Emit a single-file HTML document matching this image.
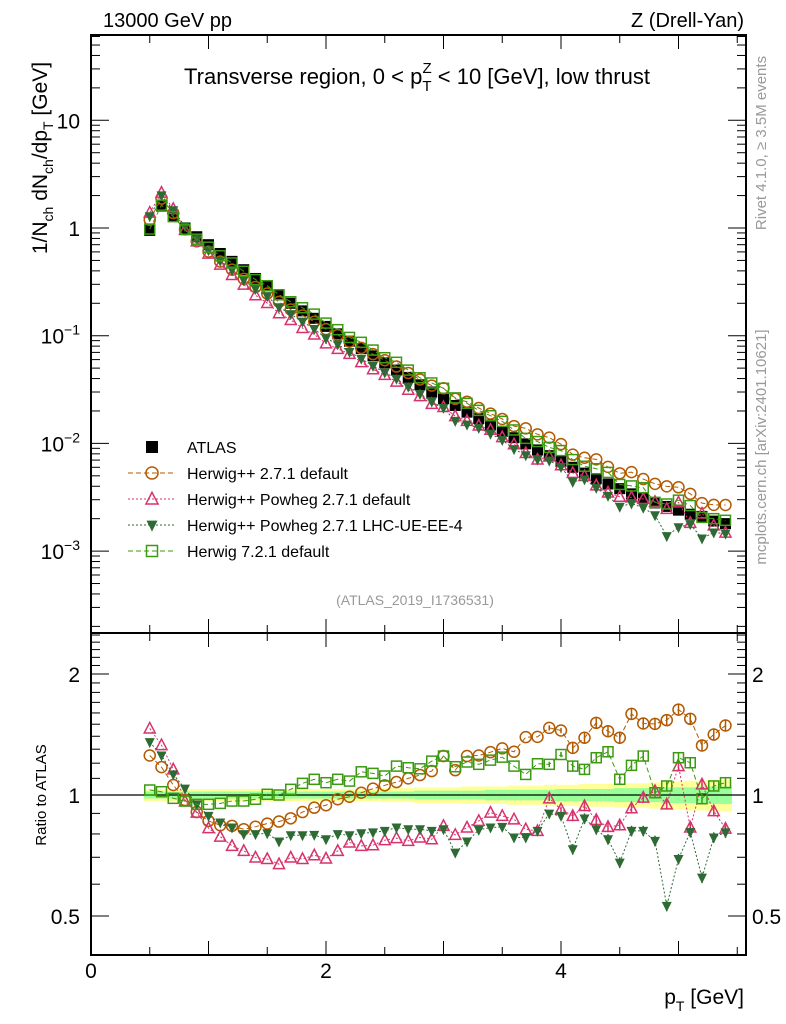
<!DOCTYPE html>
<html><head><meta charset="utf-8"><style>
body{margin:0;background:#fff;}
svg{display:block;font-family:"Liberation Sans",sans-serif;}
</style></head><body>
<svg id="c" width="786" height="1024" xmlns="http://www.w3.org/2000/svg"></svg>
<script>
const xs=[0.5,0.6,0.7,0.8,0.9,1.0,1.1,1.2,1.3,1.4,1.5,1.6,1.7,1.8,1.9,2.0,2.1,2.2,2.3,2.4,2.5,2.6,2.7,2.8,2.9,3.0,3.1,3.2,3.3,3.4,3.5,3.6,3.7,3.8,3.9,4.0,4.1,4.2,4.3,4.4,4.5,4.6,4.7,4.8,4.9,5.0,5.1,5.2,5.3,5.4];
const atlas=[0.95,1.6,1.3,1.0,0.83,0.70,0.58,0.49,0.41,0.34,0.29,0.24,0.20,0.17,0.145,0.122,0.104,0.089,0.076,0.065,0.056,0.048,0.041,0.035,0.030,0.026,0.0225,0.0195,0.017,0.0148,0.0129,0.0113,0.0099,0.0087,0.0077,0.0068,0.006,0.0053,0.0047,0.0042,0.0038,0.0034,0.0031,0.0028,0.0026,0.0024,0.0022,0.0021,0.0019,0.0018];
const rHerwig=[1.254,1.173,1.059,0.972,0.907,0.862,0.841,0.838,0.822,0.834,0.849,0.859,0.875,0.907,0.930,0.943,0.976,0.99,1.013,1.037,1.057,1.077,1.10,1.121,1.147,1.25,1.153,1.25,1.254,1.278,1.306,1.281,1.393,1.395,1.469,1.447,1.31,1.388,1.512,1.441,1.388,1.591,1.506,1.503,1.535,1.631,1.547,1.328,1.414,1.489];
const rPowheg=[1.464,1.331,1.158,0.964,0.904,0.827,0.788,0.747,0.726,0.699,0.693,0.673,0.699,0.693,0.708,0.695,0.726,0.762,0.747,0.750,0.772,0.781,0.769,0.784,0.776,0.838,0.796,0.830,0.862,0.904,0.887,0.87,0.822,0.814,0.981,0.921,0.887,0.939,0.867,0.833,0.841,0.927,0.985,1.023,0.948,1.18,0.830,1.063,0.912,0.825];
const rPowhegUE=[1.354,1.254,1.125,1.037,0.948,0.887,0.854,0.830,0.799,0.799,0.803,0.766,0.794,0.794,0.796,0.776,0.799,0.794,0.803,0.807,0.814,0.830,0.822,0.822,0.814,0.822,0.719,0.766,0.819,0.830,0.833,0.784,0.784,0.814,0.899,0.887,0.733,0.874,0.822,0.776,0.679,0.814,0.814,0.769,0.530,0.693,0.809,0.623,0.784,0.807];
const rH7=[1.029,1.019,0.981,0.966,0.948,0.948,0.953,0.966,0.966,0.976,1.004,1.0,1.033,1.069,1.094,1.073,1.094,1.083,1.142,1.132,1.115,1.18,1.169,1.162,1.214,1.25,1.176,1.208,1.192,1.221,1.242,1.18,1.125,1.196,1.192,1.261,1.18,1.158,1.238,1.281,1.094,1.185,1.25,1.013,1.053,1.238,1.203,0.979,1.053,1.073];
const bandStat=[0.02,0.02,0.02,0.02,0.02,0.02,0.02,0.02,0.02,0.02,0.02,0.02,0.02,0.02,0.02,0.02,0.02,0.02,0.02,0.02,0.02,0.02,0.02,0.025,0.025,0.025,0.025,0.025,0.025,0.03,0.03,0.03,0.03,0.03,0.03,0.035,0.035,0.035,0.035,0.035,0.04,0.04,0.04,0.04,0.045,0.045,0.045,0.05,0.05,0.05];
const bandTot=[0.035,0.035,0.035,0.035,0.035,0.035,0.035,0.035,0.035,0.035,0.035,0.035,0.035,0.035,0.035,0.035,0.035,0.035,0.035,0.035,0.04,0.04,0.04,0.045,0.045,0.045,0.045,0.05,0.05,0.05,0.05,0.055,0.055,0.055,0.06,0.06,0.06,0.065,0.065,0.065,0.07,0.07,0.07,0.075,0.08,0.08,0.085,0.085,0.09,0.09];
const yTickExp=[1,0,-1,-2,-3];
const svg=document.getElementById('c');
const NS='http://www.w3.org/2000/svg';
const L=91,R=746,T1=35,B1=633,T2=633,B2=955;
const X=v=>L+117.5*v;
const Y1=v=>228-107.7*Math.log10(v);
const Y2=v=>795-402*Math.log10(v);
function el(tag,a,parent){const e=document.createElementNS(NS,tag);for(const k in a)e.setAttribute(k,a[k]);(parent||svg).appendChild(e);return e;}
function txt(s,a,name){const e=el('text',a);e.textContent=s;return e;}

const band=el('g',{});


xs.forEach((x,i)=>{
  const x0=X(x-0.05),w=117.5*0.1;
  let r=el('rect',{x:x0,y:Y2(1+bandTot[i]),width:w+0.5,height:Y2(1-bandTot[i])-Y2(1+bandTot[i]),fill:'#ffff99'},band);
  
  
  r=el('rect',{x:x0,y:Y2(1+bandStat[i]),width:w+0.5,height:Y2(1-bandStat[i])-Y2(1+bandStat[i]),fill:'#99ff99'},band);
  
  
});
let ln=el('line',{x1:L,x2:R,y1:Y2(1),y2:Y2(1),stroke:'#000','stroke-width':1.3});



const series=[
 {name:'herwig-2-7-1',r:rHerwig,col:'#b35900',dash:'5,3',m:'circle'},
 {name:'powheg-2-7-1',r:rPowheg,col:'#d6336c',dash:'2,2',m:'tri'},
 {name:'powheg-lhc-ue',r:rPowhegUE,col:'#2e6b34',dash:'2,2',m:'tridown'},
 {name:'herwig-7-2-1',r:rH7,col:'#3c9a12',dash:'5,3',m:'square'}
];
function marker(g,m,x,y,col,s){
  let e;
  if(m==='circle')e=el('circle',{cx:x,cy:y,r:s*0.55,fill:'none',stroke:col,'stroke-width':1.5},g);
  else if(m==='tri')e=el('polygon',{points:`${x},${y-s*0.6} ${x-s*0.55},${y+s*0.45} ${x+s*0.55},${y+s*0.45}`,fill:'none',stroke:col,'stroke-width':1.5},g);
  else if(m==='tridown')e=el('polygon',{points:`${x},${y+s*0.6} ${x-s*0.5},${y-s*0.4} ${x+s*0.5},${y-s*0.4}`,fill:col},g);
  else if(m==='square')e=el('rect',{x:x-s*0.5,y:y-s*0.5,width:s,height:s,fill:'none',stroke:col,'stroke-width':1.5},g);
  else e=el('rect',{x:x-s*0.5,y:y-s*0.5,width:s,height:s,fill:col},g);
  
  
}
const ga=el('g',{});


xs.forEach((x,i)=>marker(ga,'fsq',X(x),Y1(atlas[i]),'#000',11));
series.forEach(s=>{
  const g=el('g',{});
  
  
  const p1=xs.map((x,i)=>X(x)+','+Y1(atlas[i]*s.r[i])).join(' ');
  let pl=el('polyline',{points:p1,fill:'none',stroke:s.col,'stroke-dasharray':s.dash,'stroke-width':1},g);
  
  
  xs.forEach((x,i)=>marker(g,s.m,X(x),Y1(atlas[i]*s.r[i]),s.col,10));
  const p2=xs.map((x,i)=>X(x)+','+Y2(s.r[i])).join(' ');
  pl=el('polyline',{points:p2,fill:'none',stroke:s.col,'stroke-dasharray':s.dash,'stroke-width':1},g);
  
  
  xs.forEach((x,i)=>{
    const e=x>4?0.03:0.015;
    if(x>3.8){const eb=el('line',{x1:X(x),x2:X(x),y1:Y2(s.r[i]*(1+e)),y2:Y2(s.r[i]*(1-e)),stroke:s.col,'stroke-width':1.5},g);
    
    }
    marker(g,s.m,X(x),Y2(s.r[i]),s.col,10);
  });
});

[[T1,B1,'main-frame'],[T2,B2,'ratio-frame']].forEach(([t,b,n])=>{
  const r=el('rect',{x:L,y:t,width:R-L,height:b-t,fill:'none',stroke:'#000','stroke-width':2});
  
  
});
for(let v=0;v<=5.5;v+=0.5){
  const major=Math.abs(v-Math.round(v))<1e-6, len=major?14:8;
  [[T1,1],[B1,-1],[T2,1],[B2,-1]].forEach(([y,d])=>{
    const t=el('line',{x1:X(v),x2:X(v),y1:y,y2:y+d*len,stroke:'#000','stroke-width':1});
    
    
  });
}
[0,2,4].forEach(v=>txt(String(v),{x:X(v),y:978,'font-size':21,'text-anchor':'middle'},'x-tick-label'));
for(let d=-4;d<=1;d++)for(let k=1;k<10;k++){
  const v=k*Math.pow(10,d),y=Y1(v);if(y<T1||y>B1)continue;
  const len=k===1?18:9;
  [[L,1],[R,-1]].forEach(([x,s])=>{const t=el('line',{x1:x,x2:x+s*len,y1:y,y2:y,stroke:'#000','stroke-width':1});
  
  });
}
yTickExp.forEach(ex=>{
  const y=Y1(Math.pow(10,ex));
  const t=txt('',{x:80,y:y+8,'font-size':21,'text-anchor':'end'},'y-tick-label');
  if(ex===1)t.textContent='10';
  else if(ex===0)t.textContent='1';
  else t.innerHTML='10<tspan font-size="14" dy="-9">−'+(-ex)+'</tspan>';
});
[0.4,0.5,0.6,0.7,0.8,0.9,1,1.1,1.2,1.3,1.4,1.5,1.6,1.7,1.8,1.9,2,2.1,2.2,2.3,2.4,2.5].forEach(v=>{
  const y=Y2(v);if(y<T2||y>B2)return;const maj=[0.5,1,2].includes(v);const len=maj?18:9;
  [[L,1],[R,-1]].forEach(([x,s])=>{const t=el('line',{x1:x,x2:x+s*len,y1:y,y2:y,stroke:'#000','stroke-width':1});
  
  });
});
[[2,'2'],[1,'1'],[0.5,'0.5']].forEach(([v,s])=>{
  txt(s,{x:80,y:Y2(v)+8,'font-size':21,'text-anchor':'end'},'ratio-tick-label-left');
  txt(s,{x:752,y:Y2(v)+8,'font-size':21},'ratio-tick-label-right');
});
txt('13000 GeV pp',{x:103,y:27,'font-size':20},'beam-label');
txt('Z (Drell-Yan)',{x:744,y:27,'font-size':20,'text-anchor':'end'},'process-label');
let tt=txt('',{x:417,y:84,'font-size':22,'text-anchor':'middle'},'plot-title');
tt.innerHTML='Transverse region, 0 &lt; p<tspan font-size="15" dy="7">T</tspan><tspan font-size="15" dx="-9" dy="-18">Z</tspan><tspan dy="11"> &lt; 10 [GeV], low thrust</tspan>';
txt('(ATLAS_2019_I1736531)',{x:415,y:605,'font-size':14,'text-anchor':'middle',fill:'#999'},'analysis-id');
let yl=txt('',{x:0,y:0,'font-size':21,'text-anchor':'middle',transform:'translate(47,158) rotate(-90)'},'y-axis-title');
yl.innerHTML='1/N<tspan font-size="14" dy="6">ch</tspan><tspan dy="-6"> dN</tspan><tspan font-size="14" dy="6">ch</tspan><tspan dy="-6">/dp</tspan><tspan font-size="14" dy="6">T</tspan><tspan dy="-6"> [GeV]</tspan>';
txt('Ratio to ATLAS',{x:0,y:0,'font-size':15,'text-anchor':'middle',transform:'translate(46,795) rotate(-90)'},'ratio-axis-title');
let xl=txt('',{x:744,y:1004,'font-size':21,'text-anchor':'end'},'x-axis-title');
xl.innerHTML='p<tspan font-size="14" dy="7">T</tspan><tspan dy="-7"> [GeV]</tspan>';
txt('Rivet 4.1.0, ≥ 3.5M events',{x:0,y:0,'font-size':15,fill:'#999','text-anchor':'middle',transform:'translate(766,143) rotate(-90)'},'rivet-label');
txt('mcplots.cern.ch [arXiv:2401.10621]',{x:0,y:0,'font-size':15,fill:'#999','text-anchor':'middle',transform:'translate(766,447) rotate(-90)'},'mcplots-label');
const leg=[['ATLAS','fsq','#000',null],['Herwig++ 2.7.1 default','circle','#b35900','5,3'],['Herwig++ Powheg 2.7.1 default','tri','#d6336c','2,2'],['Herwig++ Powheg 2.7.1 LHC-UE-EE-4','tridown','#2e6b34','2,2'],['Herwig 7.2.1 default','square','#3c9a12','5,3']];
leg.forEach((l,i)=>{
  const y=447+i*26;const g=el('g',{});
  
  
  if(l[3]){const t=el('line',{x1:128,x2:176,y1:y,y2:y,stroke:l[2],'stroke-dasharray':l[3],'stroke-width':1},g);
  
  }
  marker(g,l[1],152,y,l[2],l[1]==='fsq'?12:11);
  const t=el('text',{x:187,y:y+6,'font-size':16},g);t.textContent=l[0];
  
  
});
</script>
</body></html>
